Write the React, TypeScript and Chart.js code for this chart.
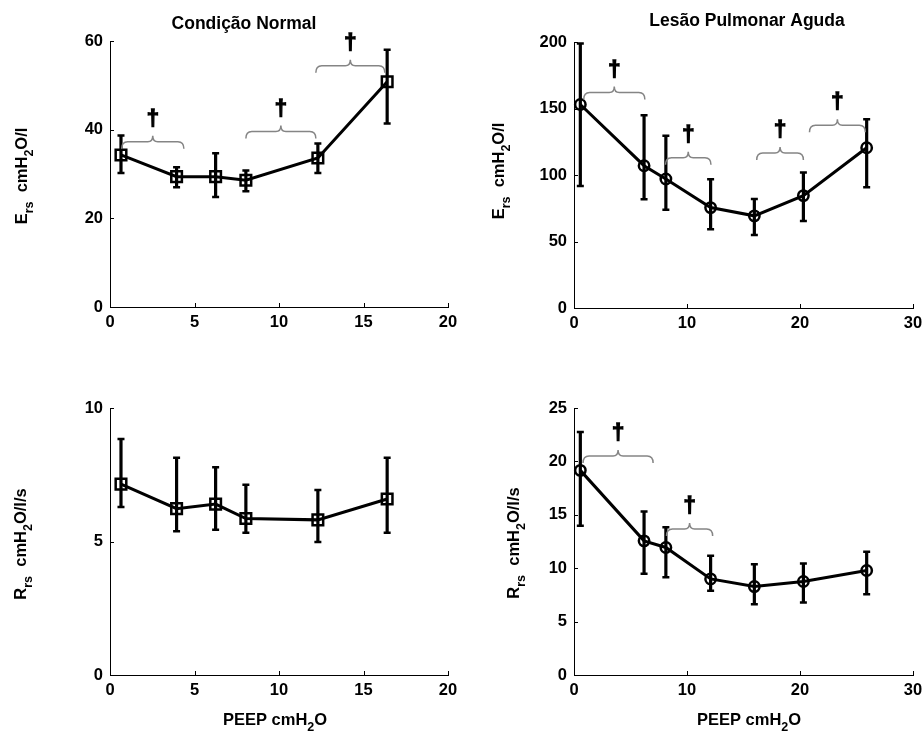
import React, { useEffect, useRef } from "react";
import { Chart, registerables } from "chart.js";

Chart.register(...registerables);

// ---------- data ----------
const peepNormal = [0.65, 3.94, 6.25, 8.04, 12.3, 16.4];
const ersNormal = [34.3, 29.4, 29.4, 28.6, 33.6, 50.8];
const ersNormalLow = [30.2, 27.0, 24.8, 26.1, 30.2, 41.4];
const ersNormalHigh = [38.7, 31.5, 34.7, 30.8, 36.9, 58.0];

const peepALI = [0.56, 6.2, 8.13, 12.09, 15.96, 20.3, 25.9];
const ersALI = [153, 107, 97, 75.5, 69.3, 84.5, 120.5];
const ersALILow = [91.8, 81.8, 73.8, 59.3, 54.8, 65.5, 90.8];
const ersALIHigh = [198.8, 145, 129.5, 96.8, 82, 101.8, 142];

const rrsNormal = [7.15, 6.23, 6.4, 5.86, 5.81, 6.59];
const rrsNormalLow = [6.29, 5.38, 5.44, 5.33, 4.98, 5.33];
const rrsNormalHigh = [8.84, 8.14, 7.78, 7.13, 6.93, 8.14];

const rrsALI = [19.16, 12.56, 11.94, 9.0, 8.28, 8.75, 9.78];
const rrsALILow = [13.97, 9.47, 9.16, 7.88, 6.63, 6.78, 7.56];
const rrsALIHigh = [22.75, 15.3, 13.84, 11.16, 10.38, 10.44, 11.53];

// significance brackets: [xStart, xEnd, y]
const bracketsErsNormal = [
  [0.69, 4.37, 37.3],
  [8.04, 12.18, 39.6],
  [12.18, 16.26, 54.4],
];
const bracketsErsALI = [
  [0.86, 6.27, 162],
  [8.1, 12.12, 113],
  [16.17, 20.3, 116.5],
  [20.84, 25.78, 137.5],
];
const bracketsRrsNormal: number[][] = [];
const bracketsRrsALI = [
  [0.8, 7.0, 20.5],
  [8.19, 12.27, 13.66],
];

const xRangeNormal = [0, 20, 5];
const xRangeALI = [0, 30, 10];
const yRangeErsNormal = [0, 60, 20];
const yRangeErsALI = [0, 200, 50];
const yRangeRrsNormal = [0, 10, 5];
const yRangeRrsALI = [0, 25, 5];

const titleNormal = "Condição Normal";
const titleALI = "Lesão Pulmonar Aguda";
const dagger = "†";

type Seg = { t: string; sub?: boolean };
const ersLabel: Seg[] = [{ t: "E" }, { t: "rs", sub: true }, { t: "  cmH" }, { t: "2", sub: true }, { t: "O/l" }];
const rrsLabel: Seg[] = [{ t: "R" }, { t: "rs", sub: true }, { t: "  cmH" }, { t: "2", sub: true }, { t: "O/l/s" }];
const peepLabel: Seg[] = [{ t: "PEEP cm" }, { t: "H" }, { t: "2", sub: true }, { t: "O" }];

// ---------- styling ----------
const FAMILY = "'Liberation Sans', Arial, sans-serif";
const MAIN_SIZE = 16.5;
const SUB_SIZE = 12.5;
const SUB_DROP = 6;

function segFont(s: Seg) {
  return `bold ${s.sub ? SUB_SIZE : MAIN_SIZE}px ${FAMILY}`;
}

function richWidth(ctx: CanvasRenderingContext2D, segs: Seg[]) {
  let w = 0;
  for (const s of segs) {
    ctx.font = segFont(s);
    w += ctx.measureText(s.t).width;
  }
  return w;
}

function drawRich(ctx: CanvasRenderingContext2D, segs: Seg[], cx: number, baseline: number) {
  const w = richWidth(ctx, segs);
  let x = cx - w / 2;
  ctx.textAlign = "left";
  ctx.textBaseline = "alphabetic";
  ctx.fillStyle = "#000";
  for (const s of segs) {
    ctx.font = segFont(s);
    ctx.fillText(s.t, x, baseline + (s.sub ? SUB_DROP : 0));
    x += ctx.measureText(s.t).width;
  }
}

type PanelCfg = {
  left: number;
  top: number;
  w: number;
  h: number;
  area: { l: number; r: number; t: number; b: number }; // page coords
  xs: number[];
  ys: number[];
  lo: number[];
  hi: number[];
  xr: number[];
  yr: number[];
  marker: "rect" | "circle";
  brackets: number[][];
  title?: { text: string; cx: number; baseline: number };
  ylabel: { segs: Seg[]; baselineX: number; cy: number };
  xlabel?: { segs: Seg[]; cx: number; baseline: number };
};

const Y_W = 60;
const X_H = 40;

function Panel({ cfg }: { cfg: PanelCfg }) {
  const ref = useRef<HTMLCanvasElement>(null);
  useEffect(() => {
    const canvas = ref.current!;
    const ox = cfg.left;
    const oy = cfg.top;
    const padding = {
      left: cfg.area.l - ox - Y_W,
      right: ox + cfg.w - cfg.area.r,
      top: cfg.area.t - oy,
      bottom: oy + cfg.h - cfg.area.b - X_H,
    };
    const tickFont = { family: FAMILY, size: MAIN_SIZE, weight: "bold" as const };

    const decor = {
      id: "decor",
      beforeDatasetsDraw(chart: any) {
        const ctx: CanvasRenderingContext2D = chart.ctx;
        const xs = chart.scales.x;
        const ys = chart.scales.y;
        ctx.save();
        ctx.strokeStyle = "#000";
        ctx.lineCap = "butt";
        for (let i = 0; i < cfg.xs.length; i++) {
          const px = xs.getPixelForValue(cfg.xs[i]);
          const pLo = ys.getPixelForValue(cfg.lo[i]);
          const pHi = ys.getPixelForValue(cfg.hi[i]);
          ctx.lineWidth = 3.2;
          ctx.beginPath();
          ctx.moveTo(px, pLo);
          ctx.lineTo(px, pHi);
          ctx.stroke();
          ctx.lineWidth = 2.5;
          ctx.beginPath();
          ctx.moveTo(px - 3.5, pLo);
          ctx.lineTo(px + 3.5, pLo);
          ctx.moveTo(px - 3.5, pHi);
          ctx.lineTo(px + 3.5, pHi);
          ctx.stroke();
        }
        ctx.restore();
      },
      afterDraw(chart: any) {
        const ctx: CanvasRenderingContext2D = chart.ctx;
        const xs = chart.scales.x;
        const ys = chart.scales.y;
        const a = chart.chartArea;
        ctx.save();
        // inward ticks
        ctx.strokeStyle = "#000";
        ctx.lineWidth = 1;
        ctx.beginPath();
        for (const t of xs.ticks) {
          const px = Math.round(xs.getPixelForValue(t.value)) + 0.5;
          ctx.moveTo(px, a.bottom);
          ctx.lineTo(px, a.bottom - 4);
        }
        for (const t of ys.ticks) {
          const py = Math.round(ys.getPixelForValue(t.value)) + 0.5;
          ctx.moveTo(a.left, py);
          ctx.lineTo(a.left + 4, py);
        }
        ctx.stroke();

        // brackets + daggers
        for (const b of cfg.brackets) {
          const x1 = xs.getPixelForValue(b[0]);
          const x2 = xs.getPixelForValue(b[1]);
          const y = ys.getPixelForValue(b[2]);
          const xm = (x1 + x2) / 2;
          const drop = 7;
          const up = 6;
          const r = 6;
          ctx.strokeStyle = "#858585";
          ctx.lineWidth = 1.5;
          ctx.beginPath();
          ctx.moveTo(x1, y + drop);
          ctx.quadraticCurveTo(x1, y, x1 + r, y);
          ctx.lineTo(xm - 5, y);
          ctx.quadraticCurveTo(xm, y, xm, y - up);
          ctx.quadraticCurveTo(xm, y, xm + 5, y);
          ctx.lineTo(x2 - r, y);
          ctx.quadraticCurveTo(x2, y, x2, y + drop);
          ctx.stroke();
          ctx.fillStyle = "#000";
          ctx.strokeStyle = "#000";
          ctx.lineWidth = 1.3;
          ctx.font = `bold 22px ${FAMILY}`;
          ctx.textAlign = "center";
          ctx.textBaseline = "middle";
          ctx.fillText(dagger, xm, y - 23);
          ctx.strokeText(dagger, xm, y - 23);
        }

        // title
        if (cfg.title) {
          ctx.fillStyle = "#000";
          ctx.font = `bold 17.5px ${FAMILY}`;
          ctx.textAlign = "center";
          ctx.textBaseline = "alphabetic";
          ctx.fillText(cfg.title.text, cfg.title.cx - ox, cfg.title.baseline - oy);
        }
        // x label
        if (cfg.xlabel) {
          drawRich(ctx, cfg.xlabel.segs, cfg.xlabel.cx - ox, cfg.xlabel.baseline - oy);
        }
        // y label (rotated)
        ctx.translate(cfg.ylabel.baselineX - ox, cfg.ylabel.cy - oy);
        ctx.rotate(-Math.PI / 2);
        drawRich(ctx, cfg.ylabel.segs, 0, 0);
        ctx.restore();
      },
    };

    const fixY = (s: any) => {
      s.width = Y_W;
      s.paddingTop = 0;
      s.paddingBottom = 0;
      s.paddingLeft = 0;
      s.paddingRight = 0;
    };
    const fixX = (s: any) => {
      s.height = X_H;
      s.paddingTop = 0;
      s.paddingBottom = 0;
      s.paddingLeft = 0;
      s.paddingRight = 0;
    };

    const chart = new Chart(canvas, {
      type: "scatter",
      data: {
        datasets: [
          {
            data: cfg.xs.map((x, i) => ({ x, y: cfg.ys[i] })),
            showLine: true,
            borderColor: "#000",
            borderWidth: 3,
            pointStyle: cfg.marker,
            pointRadius: cfg.marker === "rect" ? 7.5 : 5.2,
            pointBorderWidth: 2.5,
            pointBorderColor: "#000",
            pointBackgroundColor: "rgba(0,0,0,0)",
            tension: 0,
            clip: false as any,
          } as any,
        ],
      },
      options: {
        responsive: false,
        animation: false,
        devicePixelRatio: 1,
        events: [],
        layout: { padding },
        plugins: {
          legend: { display: false },
          tooltip: { enabled: false },
          title: { display: false },
        },
        scales: {
          x: {
            type: "linear",
            position: "bottom",
            min: cfg.xr[0],
            max: cfg.xr[1],
            ticks: { stepSize: cfg.xr[2], font: tickFont, color: "#000", padding: 6, maxRotation: 0, autoSkip: false },
            grid: { display: false, drawTicks: false },
            border: { display: true, color: "#000", width: 1 },
            afterFit: fixX,
          },
          y: {
            type: "linear",
            position: "left",
            min: cfg.yr[0],
            max: cfg.yr[1],
            ticks: { stepSize: cfg.yr[2], font: tickFont, color: "#000", padding: 7, autoSkip: false },
            grid: { display: false, drawTicks: false },
            border: { display: true, color: "#000", width: 1 },
            afterFit: fixY,
          },
        },
      },
      plugins: [decor as any],
    });
    return () => chart.destroy();
  }, []);
  return (
    <canvas
      ref={ref}
      width={cfg.w}
      height={cfg.h}
      style={{ position: "absolute", left: cfg.left, top: cfg.top, width: cfg.w, height: cfg.h }}
    />
  );
}

const panels: PanelCfg[] = [
  {
    left: 0, top: 0, w: 462, h: 366,
    area: { l: 110, r: 448, t: 41, b: 307 },
    xs: peepNormal, ys: ersNormal, lo: ersNormalLow, hi: ersNormalHigh,
    xr: xRangeNormal, yr: yRangeErsNormal, marker: "rect",
    brackets: bracketsErsNormal,
    title: { text: titleNormal, cx: 244, baseline: 29 },
    ylabel: { segs: ersLabel, baselineX: 27, cy: 176 },
  },
  {
    left: 462, top: 0, w: 462, h: 366,
    area: { l: 574, r: 913, t: 42, b: 308 },
    xs: peepALI, ys: ersALI, lo: ersALILow, hi: ersALIHigh,
    xr: xRangeALI, yr: yRangeErsALI, marker: "circle",
    brackets: bracketsErsALI,
    title: { text: titleALI, cx: 747, baseline: 26 },
    ylabel: { segs: ersLabel, baselineX: 504, cy: 171 },
  },
  {
    left: 0, top: 366, w: 462, h: 367,
    area: { l: 110, r: 448, t: 408, b: 675 },
    xs: peepNormal, ys: rrsNormal, lo: rrsNormalLow, hi: rrsNormalHigh,
    xr: xRangeNormal, yr: yRangeRrsNormal, marker: "rect",
    brackets: bracketsRrsNormal,
    ylabel: { segs: rrsLabel, baselineX: 26, cy: 544 },
    xlabel: { segs: peepLabel, cx: 275, baseline: 725 },
  },
  {
    left: 462, top: 366, w: 462, h: 367,
    area: { l: 574, r: 913, t: 408, b: 675 },
    xs: peepALI, ys: rrsALI, lo: rrsALILow, hi: rrsALIHigh,
    xr: xRangeALI, yr: yRangeRrsALI, marker: "circle",
    brackets: bracketsRrsALI,
    ylabel: { segs: rrsLabel, baselineX: 519, cy: 543 },
    xlabel: { segs: peepLabel, cx: 749, baseline: 725 },
  },
];

export default function App() {
  return (
    <div style={{ position: "absolute", left: 0, top: 0, width: 924, height: 733, background: "#fff", overflow: "hidden" }}>
      {panels.map((p, i) => (
        <Panel key={i} cfg={p} />
      ))}
    </div>
  );
}
